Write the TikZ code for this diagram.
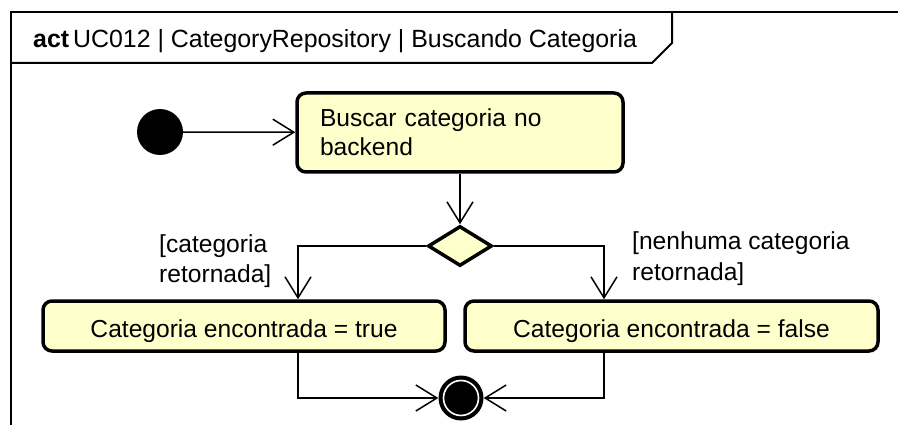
\documentclass[tikz,border=0pt]{standalone}
\usepackage{fontspec}
\setmainfont{Liberation Sans}
\usetikzlibrary{arrows.meta,shapes.geometric}
\definecolor{actfill}{HTML}{FFFFCC}
\begin{document}
\begin{tikzpicture}[x=1pt,y=-1pt,
  every node/.style={font=\fontsize{24.6}{29}\selectfont},
  actbox/.style={draw=black, line width=3.5pt, fill=actfill, rounded corners=9pt, inner sep=0pt},
  arr/.style={line width=1.5pt, -{Straight Barb[length=21pt,width=26pt,line width=1.5pt]}},
  guard/.style={anchor=base west, inner sep=0pt, align=left, font=\fontsize{24.6}{31}\selectfont}]
\useasboundingbox (0,0) rectangle (898,425);
% frame
\draw[line width=2pt] (11,425) -- (11,12) -- (898,12);
\draw[line width=2pt] (11,63) -- (652,63) -- (672,43) -- (672,12);
\node[anchor=base west, inner sep=0pt, font=\fontsize{24.9}{29}\selectfont] (title) at (33,48) {\textbf{act}\hspace{4pt}UC012 | CategoryRepository | Buscando Categoria};
% nodes
\node[circle, fill=black, minimum size=46pt, inner sep=0pt] (init) at (160,132) {};
\node[actbox, minimum width=326pt, minimum height=79pt, text width=280pt, align=left] (buscar) at (460,132.5) {Buscar categoria no\\backend};
\node[draw=black, line width=3.5pt, fill=actfill, diamond, minimum width=64pt, minimum height=40pt, inner sep=0pt] (dec) at (460,246) {};
\node[actbox, minimum width=402pt, minimum height=50pt, text height=22pt, text depth=0pt] (ctrue) at (244,326) {Categoria encontrada = true};
\node[actbox, minimum width=413pt, minimum height=50pt, text height=22pt, text depth=0pt] (cfalse) at (671.5,326) {Categoria encontrada = false};
\node[circle, fill=black, minimum size=45pt, inner sep=0pt] (fin) at (461,398) {};
\draw[white, line width=1.6pt] (fin.center) circle[radius=17.5pt];
\coordinate (jL) at (298,246);
\coordinate (jR) at (604,246);
% labels
\node[guard] (lblT) at (159,283) {[categoria\\retornada]};
\node[guard] (lblF) at (632,280) {[nenhuma categoria\\retornada]};
% connectors
\draw[arr] (init) -- (buscar);
\draw[arr] (buscar) -- (dec);
\draw[arr] (dec.west) -| (ctrue.north -| jL);
\draw[arr] (dec.east) -| (cfalse.north -| jR);
\draw[arr] (ctrue.south -| jL) |- (fin.west);
\draw[arr] (cfalse.south -| jR) |- (fin.east);
\end{tikzpicture}
\end{document}
